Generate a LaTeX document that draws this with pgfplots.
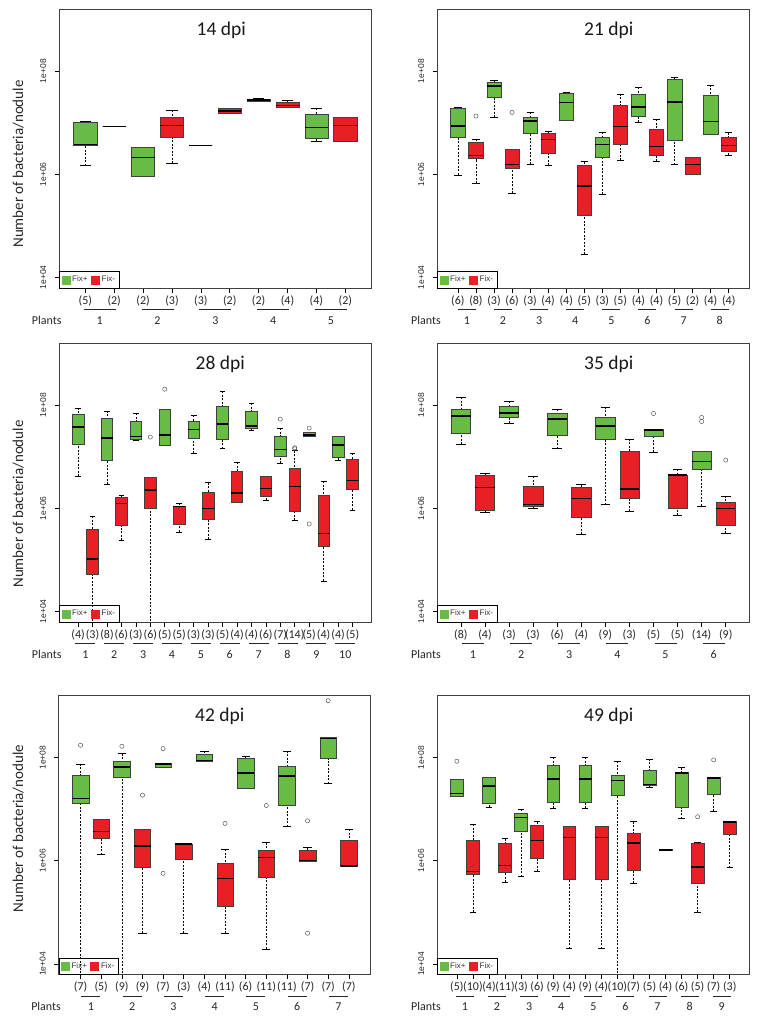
\documentclass[border=0pt]{standalone}
\usepackage{pgfplots}
\pgfplotsset{compat=1.18}
\usepgfplotslibrary{statistics}
\usepackage{fontspec}
\setmainfont{Carlito}
\newfontfamily\rfont{Liberation Sans}
\definecolor{fixp}{RGB}{104,187,69}
\definecolor{fixm}{RGB}{232,32,38}

\pgfplotsset{
  boxplot/draw/lower whisker/.code={%
    \draw[black, line width=0.5pt, dash pattern=on 2pt off 1.5pt]
      (boxplot cs:\pgfplotsboxplotvalue{lower whisker}) -- (boxplot cs:\pgfplotsboxplotvalue{lower quartile});
    \draw[black, line width=0.6pt]
      (boxplot whisker cs:\pgfplotsboxplotvalue{lower whisker},0) -- (boxplot whisker cs:\pgfplotsboxplotvalue{lower whisker},1);
  },
  boxplot/draw/upper whisker/.code={%
    \draw[black, line width=0.5pt, dash pattern=on 2pt off 1.5pt]
      (boxplot cs:\pgfplotsboxplotvalue{upper whisker}) -- (boxplot cs:\pgfplotsboxplotvalue{upper quartile});
    \draw[black, line width=0.6pt]
      (boxplot whisker cs:\pgfplotsboxplotvalue{upper whisker},0) -- (boxplot whisker cs:\pgfplotsboxplotvalue{upper whisker},1);
  },
  panel/.style={
    width=312pt, height=279pt, scale only axis,
    ymin=3.79, ymax=9.2,
    ytick={4,6,8}, yticklabels={1e+04,1e+06,1e+08},
    xtick pos=bottom, ytick pos=left, tick align=outside,
    major tick length=4.5pt,
    tick style={black, line width=0.5pt},
    axis line style={black!75, line width=0.7pt},
    clip mode=individual,
    yticklabel style={xshift=-11.5pt, rotate=90, anchor=center, font=\rfont\fontsize{8.5}{9}\selectfont, text=black!85},
    xticklabel style={anchor=center, yshift=-8pt, font=\fontsize{12}{12}\selectfont, text=black!85},
    legend style={at={(0,0)}, anchor=south west, draw=black, line width=0.6pt, fill=none,
      legend columns=-1, font=\rfont\fontsize{8}{8}\selectfont, text=black!80,
      inner xsep=2pt, inner ysep=2.5pt, row sep=0pt,
      /tikz/every even column/.append style={column sep=1.5pt}},
    boxplot/draw direction=y,
    boxplot/box extend=0.8,
    boxplot/whisker extend=0.4,
  },
}

\newcommand{\leg}{%
  \addlegendimage{legend image code/.code={\fill[fixp] (0pt,-4pt) rectangle (8pt,4pt);}}
  \addlegendentry{Fix+}
  \addlegendimage{legend image code/.code={\fill[fixm] (0pt,-4pt) rectangle (8pt,4pt);}}
  \addlegendentry{Fix-}
}
\newcommand{\bx}[7]{\addplot[boxplot prepared={draw position=#1,lower whisker=#2,lower quartile=#3,median=#4,upper quartile=#5,upper whisker=#6,every box/.style={fill=#7,draw=black!75,line width=0.5pt},every median/.style={black,line width=1.5pt}},draw=black] coordinates {};}
\newcommand{\bxo}[8]{\addplot[boxplot prepared={draw position=#1,lower whisker=#2,lower quartile=#3,median=#4,upper quartile=#5,upper whisker=#6,every box/.style={fill=#7,draw=black!75,line width=0.5pt},every median/.style={black,line width=1.5pt}},draw=black,mark=o,mark size=2.1pt,mark options={fill=none,draw=black!70,line width=0.45pt,solid}] table[row sep=\\,y index=0] {data\\ #8};}
\newcommand{\plant}[3]{%
  \draw[line width=1pt, black!85] ([xshift=-#3,yshift=-21.5pt]axis cs:#1,3.79) -- ([xshift=#3,yshift=-21.5pt]axis cs:#1,3.79);
  \node[font=\fontsize{12}{12}\selectfont, text=black!85] at ([yshift=-32pt]axis cs:#1,3.79) {#2};
}
\newcommand{\ttl}[2]{\node[font=\fontsize{19.5}{20}\selectfont, text=black!90] at ([xshift=#2,yshift=-21pt]rel axis cs:0.5,1) {#1};}
\newcommand{\plants}[1]{\node[anchor=east, font=\fontsize{12}{12}\selectfont, text=black!85] at ([xshift=#1,yshift=-32pt]rel axis cs:0,0) {Plants};}

\begin{document}
\begin{tikzpicture}
\path[use as bounding box] (0pt,0pt) rectangle (770pt,1030pt);

% ---------------- 14 dpi ----------------
\begin{axis}[panel, at={(59.3pt,741.7pt)}, anchor=south west,
  xmin=0.1, xmax=10.9, xtick={1,...,10},
  xticklabels={(5),(2),(2),(3),(3),(2),(2),(4),(4),(2)}]
\leg
\bx{1}{6.168}{6.568}{6.581}{7.019}{7.019}{fixp}
\bx{2}{6.929}{6.929}{6.929}{6.929}{6.929}{fixm}
\bx{3}{5.961}{5.961}{6.329}{6.529}{6.529}{fixp}
\bx{4}{6.213}{6.723}{6.948}{7.110}{7.239}{fixm}
\bx{5}{6.561}{6.561}{6.561}{6.561}{6.561}{fixp}
\bx{6}{7.181}{7.181}{7.226}{7.277}{7.277}{fixm}
\bx{7}{7.419}{7.419}{7.445}{7.465}{7.465}{fixp}
\bx{8}{7.310}{7.310}{7.335}{7.400}{7.426}{fixm}
\bx{9}{6.639}{6.697}{6.910}{7.161}{7.277}{fixp}
\bx{10}{6.639}{6.639}{6.942}{7.110}{7.110}{fixm}
\ttl{14 dpi}{6pt}
\plants{5.7pt}
\plant{1.5}{1}{16pt}\plant{3.5}{2}{16pt}\plant{5.5}{3}{16pt}\plant{7.5}{4}{16pt}\plant{9.5}{5}{16pt}
\end{axis}

% ---------------- 21 dpi ----------------
\begin{axis}[panel, at={(437.3pt,741.7pt)}, anchor=south west,
  xmin=-0.14, xmax=17.14, xtick={1,...,16},
  xticklabels={(6),(8),(3),(6),(3),(4),(4),(5),(3),(5),(4),(4),(5),(2),(4),(4)}]
\leg
\bx{1}{5.987}{6.716}{6.935}{7.277}{7.290}{fixp}
\bxo{2}{5.826}{6.303}{6.361}{6.626}{6.677}{fixm}{7.129\\}
\bx{3}{7.110}{7.503}{7.710}{7.787}{7.832}{fixp}
\bxo{4}{5.632}{6.116}{6.187}{6.484}{6.484}{fixm}{7.2\\}
\bx{5}{6.194}{6.787}{7.032}{7.116}{7.2}{fixp}
\bx{6}{6.174}{6.4}{6.677}{6.8}{6.826}{fixm}
\bx{7}{7.039}{7.039}{7.394}{7.581}{7.581}{fixp}
\bx{8}{4.452}{5.206}{5.774}{6.181}{6.245}{fixm}
\bx{9}{5.613}{6.323}{6.574}{6.716}{6.813}{fixp}
\bx{10}{6.271}{6.574}{6.923}{7.348}{7.561}{fixm}
\bx{11}{7.006}{7.129}{7.310}{7.555}{7.690}{fixp}
\bx{12}{6.252}{6.374}{6.535}{6.877}{7.065}{fixm}
\bx{13}{6.187}{6.658}{7.4}{7.839}{7.884}{fixp}
\bx{14}{6.0}{6.0}{6.194}{6.323}{6.323}{fixm}
\bx{15}{6.781}{6.781}{7.026}{7.529}{7.735}{fixp}
\bx{16}{6.368}{6.452}{6.555}{6.710}{6.806}{fixm}
\ttl{21 dpi}{15.5pt}
\plants{7pt}
\plant{1.5}{1}{9pt}\plant{3.5}{2}{9pt}\plant{5.5}{3}{9pt}\plant{7.5}{4}{9pt}
\plant{9.5}{5}{9pt}\plant{11.5}{6}{9pt}\plant{13.5}{7}{9pt}\plant{15.5}{8}{9pt}
\end{axis}

% ---------------- 28 dpi ----------------
\begin{axis}[panel, at={(59.3pt,407.7pt)}, anchor=south west,
  xmin=-0.3, xmax=21.3, xtick={1,...,20},
  xticklabels={(4),(3),(8),(6),(3),(6),(5),(5),(3),(3),(5),(4),(4),(6),(7),(14),(5),(4),(4),(5)}]
\leg
\bx{1}{6.619}{7.252}{7.581}{7.819}{7.948}{fixp}
\bx{2}{3.0}{4.716}{5.013}{5.6}{5.845}{fixm}
\bx{3}{6.465}{6.929}{7.361}{7.742}{7.890}{fixp}
\bx{4}{5.381}{5.665}{6.090}{6.213}{6.252}{fixm}
\bx{5}{7.316}{7.348}{7.394}{7.684}{7.845}{fixp}
\bxo{6}{3.0}{6.0}{6.355}{6.606}{6.606}{fixm}{7.381\\}
\bxo{7}{7.219}{7.232}{7.419}{7.916}{7.916}{fixp}{8.310\\}
\bx{8}{5.542}{5.690}{6.039}{6.039}{6.103}{fixm}
\bx{9}{7.071}{7.361}{7.529}{7.697}{7.8}{fixp}
\bx{10}{5.4}{5.787}{5.994}{6.310}{6.497}{fixm}
\bx{11}{7.155}{7.335}{7.639}{7.987}{8.271}{fixp}
\bx{12}{6.123}{6.123}{6.297}{6.723}{6.890}{fixm}
\bx{13}{7.516}{7.561}{7.594}{7.877}{8.039}{fixp}
\bx{14}{6.161}{6.226}{6.381}{6.626}{6.626}{fixm}
\bxo{15}{6.871}{7.019}{7.142}{7.394}{7.548}{fixp}{7.729\\}
\bxo{16}{5.768}{5.935}{6.419}{6.781}{7.12}{fixm}{7.174\\ 7.155\\}
\bxo{17}{7.406}{7.406}{7.426}{7.471}{7.471}{fixp}{7.555\\ 5.697\\}
\bx{18}{4.594}{5.258}{5.516}{6.258}{6.523}{fixm}
\bx{19}{6.929}{6.987}{7.226}{7.394}{7.406}{fixp}
\bx{20}{5.968}{6.361}{6.535}{6.948}{7.065}{fixm}
\ttl{28 dpi}{5pt}
\plants{5.7pt}
\plant{1.5}{1}{10pt}\plant{3.5}{2}{10pt}\plant{5.5}{3}{10pt}\plant{7.5}{4}{10pt}\plant{9.5}{5}{10pt}
\plant{11.5}{6}{10pt}\plant{13.5}{7}{10pt}\plant{15.5}{8}{10pt}\plant{17.5}{9}{10pt}\plant{19.5}{10}{10pt}
\end{axis}

% ---------------- 35 dpi ----------------
\begin{axis}[panel, at={(437.3pt,407.7pt)}, anchor=south west,
  xmin=0.02, xmax=12.98, xtick={1,...,12},
  xticklabels={(8),(4),(3),(3),(6),(4),(9),(3),(5),(5),(14),(9)}]
\leg
\bx{1}{7.239}{7.452}{7.787}{7.916}{8.155}{fixp}
\bx{2}{5.929}{5.968}{6.406}{6.645}{6.671}{fixm}
\bx{3}{7.652}{7.761}{7.852}{7.974}{8.077}{fixp}
\bx{4}{6.0}{6.032}{6.071}{6.432}{6.619}{fixm}
\bx{5}{7.155}{7.426}{7.729}{7.839}{7.923}{fixp}
\bx{6}{5.497}{5.826}{6.187}{6.4}{6.458}{fixm}
\bx{7}{6.071}{7.335}{7.6}{7.768}{7.968}{fixp}
\bx{8}{5.942}{6.2}{6.374}{7.097}{7.348}{fixm}
\bxo{9}{7.084}{7.4}{7.523}{7.529}{7.529}{fixp}{7.839\\}
\bx{10}{5.865}{6.0}{6.645}{6.645}{6.755}{fixm}
\bxo{11}{6.045}{6.755}{6.910}{7.103}{7.103}{fixp}{7.761\\ 7.684\\}
\bxo{12}{5.516}{5.677}{6.0}{6.116}{6.239}{fixm}{6.935\\}
\ttl{35 dpi}{15.5pt}
\plants{7pt}
\plant{1.5}{1}{11pt}\plant{3.5}{2}{11pt}\plant{5.5}{3}{11pt}\plant{7.5}{4}{11pt}\plant{9.5}{5}{11pt}\plant{11.5}{6}{11pt}
\end{axis}

% ---------------- 42 dpi ----------------
\begin{axis}[panel, at={(58.7pt,55.3pt)}, anchor=south west,
  xmin=-0.06, xmax=15.06, xtick={1,...,14},
  xticklabels={(7),(5),(9),(9),(7),(3),(4),(11),(6),(11),(11),(7),(7),(7)}]
\leg
\bxo{1}{3.0}{7.110}{7.206}{7.658}{7.877}{fixp}{8.239\\}
\bx{2}{6.116}{6.439}{6.568}{6.8}{6.8}{fixm}
\bxo{3}{3.0}{7.613}{7.813}{7.935}{8.077}{fixp}{8.219\\}
\bxo{4}{4.594}{5.877}{6.290}{6.613}{6.613}{fixm}{7.271\\}
\bxo{5}{7.819}{7.819}{7.871}{7.897}{7.897}{fixp}{8.174\\ 5.755\\}
\bx{6}{4.594}{6.026}{6.323}{6.329}{6.329}{fixm}
\bx{7}{7.935}{7.935}{7.948}{8.058}{8.129}{fixp}
\bxo{8}{4.594}{5.110}{5.652}{5.948}{6.226}{fixm}{6.723\\}
\bx{9}{7.406}{7.406}{7.703}{7.981}{8.019}{fixp}
\bxo{10}{4.290}{5.677}{6.058}{6.194}{6.348}{fixm}{7.071\\}
\bx{11}{6.658}{7.084}{7.639}{7.832}{8.129}{fixp}
\bxo{12}{5.987}{5.987}{6.0}{6.194}{6.252}{fixm}{6.774\\ 4.594\\}
\bxo{13}{7.497}{7.981}{8.374}{8.387}{8.387}{fixp}{9.103\\}
\bx{14}{5.884}{5.884}{5.897}{6.394}{6.613}{fixm}
\ttl{42 dpi}{5pt}
\plants{5.7pt}
\plant{1.5}{1}{9.5pt}\plant{3.5}{2}{9.5pt}\plant{5.5}{3}{9.5pt}\plant{7.5}{4}{9.5pt}
\plant{9.5}{5}{9.5pt}\plant{11.5}{6}{9.5pt}\plant{13.5}{7}{9.5pt}
\end{axis}

% ---------------- 49 dpi ----------------
\begin{axis}[panel, at={(437.3pt,55.3pt)}, anchor=south west,
  xmin=-0.22, xmax=19.22, xtick={1,...,18},
  xticklabels={(5),(10),(4),(11),(3),(6),(9),(4),(9),(4),(10),(7),(5),(4),(6),(5),(7),(3)}]
\leg
\bxo{1}{7.252}{7.252}{7.303}{7.574}{7.574}{fixp}{7.929\\}
\bx{2}{5.0}{5.729}{5.794}{6.394}{6.703}{fixm}
\bx{3}{7.039}{7.110}{7.452}{7.613}{7.613}{fixp}
\bx{4}{5.581}{5.774}{5.903}{6.335}{6.426}{fixm}
\bx{5}{5.690}{6.568}{6.839}{6.916}{6.994}{fixp}
\bx{6}{5.794}{6.045}{6.394}{6.684}{6.755}{fixm}
\bx{7}{7.013}{7.129}{7.587}{7.845}{8.006}{fixp}
\bx{8}{4.297}{5.639}{6.452}{6.677}{6.677}{fixm}
\bx{9}{7.013}{7.129}{7.587}{7.845}{8.006}{fixp}
\bx{10}{4.297}{5.639}{6.452}{6.677}{6.677}{fixm}
\bx{11}{3.0}{7.277}{7.555}{7.665}{7.929}{fixp}
\bx{12}{5.568}{5.806}{6.348}{6.535}{6.755}{fixm}
\bx{13}{7.426}{7.471}{7.477}{7.761}{7.974}{fixp}
\bx{14}{6.194}{6.194}{6.206}{6.226}{6.226}{fixm}
\bx{15}{6.813}{7.032}{7.697}{7.710}{7.806}{fixp}
\bxo{16}{5.0}{5.568}{5.877}{6.348}{6.348}{fixm}{6.852\\}
\bxo{17}{6.955}{7.290}{7.6}{7.613}{7.626}{fixp}{7.955\\}
\bx{18}{5.865}{6.523}{6.755}{6.768}{6.768}{fixm}
\ttl{49 dpi}{15.5pt}
\plants{7pt}
\plant{1.5}{1}{9pt}\plant{3.5}{2}{9pt}\plant{5.5}{3}{9pt}\plant{7.5}{4}{9pt}\plant{9.5}{5}{9pt}
\plant{11.5}{6}{9pt}\plant{13.5}{7}{9pt}\plant{15.5}{8}{9pt}\plant{17.5}{9}{9pt}
\end{axis}

\node[rotate=90, font=\fontsize{15}{15}\selectfont, text=black!85] at (18.3pt,866pt) {Number of bacteria/nodule};
\node[rotate=90, font=\fontsize{15}{15}\selectfont, text=black!85] at (18.3pt,526pt) {Number of bacteria/nodule};
\node[rotate=90, font=\fontsize{15}{15}\selectfont, text=black!85] at (18.3pt,201.5pt) {Number of bacteria/nodule};
\end{tikzpicture}
\end{document}
